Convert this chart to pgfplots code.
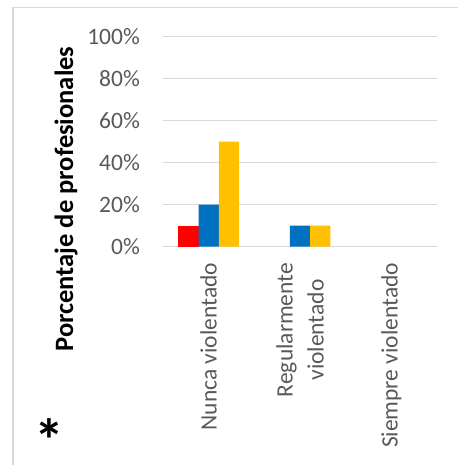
\documentclass[border=0pt]{standalone}
\usepackage{fontspec}
\setmainfont{Carlito}
\usepackage{pgfplots}
\pgfplotsset{compat=1.18}
\definecolor{cRed}{HTML}{FF0000}
\definecolor{cBlue}{HTML}{0070C0}
\definecolor{cYel}{HTML}{FFC000}
\definecolor{cGrid}{HTML}{D9D9D9}
\definecolor{cTxt}{HTML}{595959}
\begin{document}
\begin{tikzpicture}
\useasboundingbox (0pt,0pt) rectangle (457pt,-465pt);
\draw[cGrid, line width=1.5pt] (13pt,-466pt) -- (13pt,-7.5pt) -- (458pt,-7.5pt);
\begin{axis}[
  at={(163pt,-246.7pt)}, anchor=south west,
  scale only axis, width=274pt, height=210pt,
  xmin=-0.5, xmax=2.5, ymin=0, ymax=100,
  ybar=0pt, bar width=20.3pt,
  axis line style={draw=none},
  major tick length=0pt,
  ymajorgrids, grid style={cGrid, line width=1.5pt},
  ytick={0,20,40,60,80,100},
  /pgf/number format/assume math mode=true,
  yticklabel={\pgfmathprintnumber{\tick}\%},
  yticklabel style={inner sep=0pt, xshift=-23pt, text=cTxt, font=\fontsize{23.5}{28}\selectfont},
  xtick={0,1,2},
  xticklabels={Nunca violentado, {Regularmente\\violentado}, Siempre violentado},
  xticklabel style={rotate=90, anchor=east, inner sep=0pt, align=center, text=cTxt, font=\fontsize{23.5}{31}\selectfont},
  xticklabel shift=16pt,
  clip=false,
]
% zero-valued bars (Regularmente: red 0; Siempre: all 0) are not drawn
\addplot[draw=none, fill=cRed] coordinates {(0,10)};
\addplot[draw=none, fill=cBlue] coordinates {(0,20) (1,10)};
\addplot[draw=none, fill=cYel] coordinates {(0,50) (1,10)};
\end{axis}
\node[rotate=90, anchor=base, font=\fontsize{26.5}{30}\selectfont\bfseries] at (73pt,-199pt) {Porcentaje de profesionales};
\node[anchor=base, inner sep=0pt, font=\fontsize{60}{60}\selectfont\bfseries] at (49pt,-461pt) {*};
\end{tikzpicture}
\end{document}
